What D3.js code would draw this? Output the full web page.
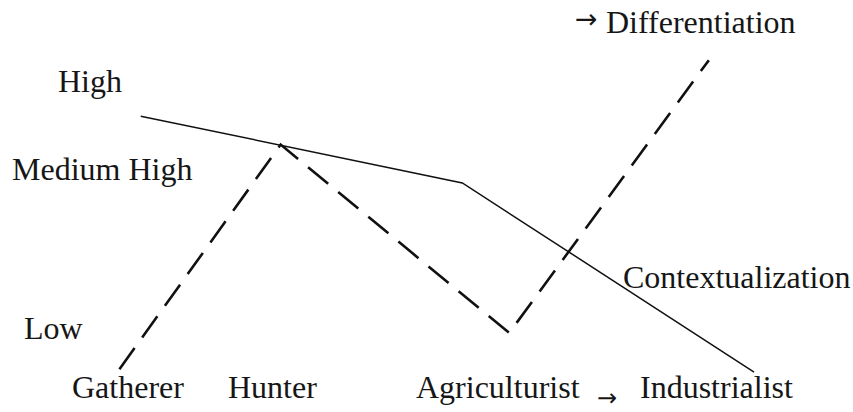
<!DOCTYPE html>
<html>
<head>
<meta charset="utf-8">
<script src="https://cdn.jsdelivr.net/npm/d3@7/dist/d3.min.js"></script>
<style>
  body { margin: 0; background: #fff; }
  svg { display: block; }
  .lbl { font-family: "Liberation Serif"; fill: #161616; }
  .arr { font-family: "DejaVu Sans"; fill: #161616; }
</style>
</head>
<body>
<svg width="853" height="412"></svg>
<script>
// stage position (0-100 across) and level (0 low - 100 high)
var contextX = [16.5, 54.2, 88.4];
var contextY = [71.8, 55.6, 9.7];
var diffX = [14.0, 32.9, 59.7, 83.1];
var diffY = [10.4, 64.9, 19.2, 85.4];

var stageLabels = ["Gatherer", "Hunter", "Agriculturist", "Industrialist"];
var levelLabels = ["High", "Medium High", "Low"];
var seriesLabels = ["Differentiation", "Contextualization"];

var svg = d3.select("svg");
var x = d3.scaleLinear().domain([0, 100]).range([0, 853]);
var y = d3.scaleLinear().domain([0, 100]).range([412, 0]);

var line = d3.line()
  .x(function(d){ return x(d[0]); })
  .y(function(d){ return y(d[1]); });

// 把两组坐标合成点数组
var ctxPts = d3.zip(contextX, contextY);
var diffPts = d3.zip(diffX, diffY);

svg.append("path")
  .attr("d", line(ctxPts))
  .attr("fill", "none")
  .attr("stroke", "#111")
  .attr("stroke-width", 1.5);

svg.append("path")
  .attr("d", line(diffPts))
  .attr("fill", "none")
  .attr("stroke", "#111")
  .attr("stroke-width", 2.6)
  .attr("stroke-dasharray", "26,13");

// 文字位置
var stagePos = [[72, 398], [228, 398], [416, 398], [640, 398]];
var levelPos = [[58, 92], [12, 180], [24, 339]];
var seriesPos = [[606, 33], [623, 288]];

function addLabels(labels, pos){
  svg.selectAll(null)
    .data(labels)
    .enter()
    .append("text")
    .attr("class", "lbl")
    .attr("x", function(d, i){ return pos[i][0]; })
    .attr("y", function(d, i){ return pos[i][1]; })
    .attr("font-size", 32)
    .text(function(d){ return d; });
}
addLabels(stageLabels, stagePos);
addLabels(levelLabels, levelPos);
addLabels(seriesLabels, seriesPos);

// arrows
svg.append("text").attr("class", "arr").attr("x", 575).attr("y", 28)
  .attr("font-size", 27).text("\u2192");
svg.append("text").attr("class", "arr").attr("x", 597).attr("y", 406)
  .attr("font-size", 24).text("\u2192");
</script>
</body>
</html>
